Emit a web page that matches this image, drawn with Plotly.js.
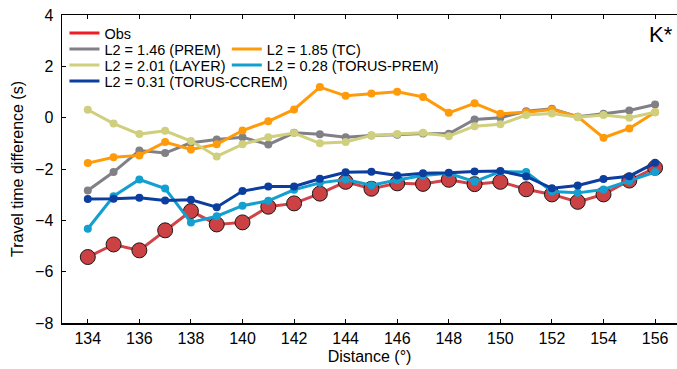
<!DOCTYPE html>
<html>
<head>
<meta charset="utf-8">
<script src="https://cdn.plot.ly/plotly-3.0.1.min.js"></script>
<style>html,body{margin:0;padding:0;background:#fff;}#chart{width:677px;height:369px;}</style>
</head>
<body>
<div id="chart"></div>
<script>
const distance = [134,135,136,137,138,139,140,141,142,143,144,145,146,147,148,149,150,151,152,153,154,155,156];
const obs = [-5.43,-4.94,-5.17,-4.39,-3.64,-4.16,-4.08,-3.47,-3.34,-2.96,-2.50,-2.77,-2.56,-2.58,-2.42,-2.59,-2.50,-2.79,-2.99,-3.28,-2.99,-2.45,-1.95];
const prem = [-2.84,-2.12,-1.28,-1.38,-0.98,-0.85,-0.76,-1.05,-0.59,-0.65,-0.76,-0.69,-0.67,-0.62,-0.63,-0.07,0.00,0.25,0.35,0.04,0.15,0.28,0.51];
const tc = [-1.77,-1.54,-1.47,-0.95,-1.24,-1.04,-0.50,-0.14,0.32,1.19,0.85,0.94,1.01,0.81,0.19,0.56,0.15,0.21,0.32,0.04,-0.78,-0.42,0.21];
const layer = [0.31,-0.23,-0.64,-0.51,-0.91,-1.51,-1.04,-0.76,-0.60,-1.00,-0.95,-0.69,-0.64,-0.59,-0.72,-0.33,-0.26,0.10,0.16,0.02,0.10,0.00,0.21];
const torusPrem = [-4.33,-3.06,-2.41,-2.76,-4.08,-3.84,-3.43,-3.24,-2.81,-2.54,-2.41,-2.63,-2.43,-2.25,-2.17,-2.49,-2.10,-2.12,-2.88,-2.93,-2.80,-2.47,-2.12];
const torusCcrem = [-3.17,-3.16,-3.12,-3.23,-3.20,-3.49,-2.86,-2.68,-2.68,-2.38,-2.13,-2.11,-2.25,-2.17,-2.15,-2.10,-2.08,-2.29,-2.75,-2.64,-2.39,-2.28,-1.76];
const names = ['Obs','L2 = 1.46 (PREM)','L2 = 1.85 (TC)','L2 = 2.01 (LAYER)','L2 = 0.28 (TORUS-PREM)','L2 = 0.31 (TORUS-CCREM)'];
const yTicks = [-8,-6,-4,-2,0,2,4];
const xTicks = [134,136,138,140,142,144,146,148,150,152,154,156];

const colors = ['#d04347','#808086','#ff9a0a','#cfcf7e','#139fd0','#0b3e9e'];
const legendColors = ['#ee1c24','#808086','#ff9a0a','#cfcf7e','#139fd0','#0b3e9e'];
const series = [obs, prem, tc, layer, torusPrem, torusCcrem];
// legend placement: [column, row]
const legendPos = [[0,0],[0,1],[1,1],[0,2],[1,2],[0,3]];

const traces = [];
series.forEach((ys, i) => {
  traces.push({
    x: distance, y: ys, type: 'scatter', mode: 'lines+markers', showlegend: false,
    line: {color: colors[i], width: 3},
    marker: i === 0 ? {size: 15, color: '#cc4143', line: {color: '#1a1a1a', width: 1}}
                    : {size: 8, color: colors[i]}
  });
});
series.forEach((ys, i) => {
  traces.push({
    x: [null], y: [null], type: 'scatter', mode: 'lines', name: names[i],
    legend: i === 0 ? 'legend' : 'legend' + (i + 1), line: {color: legendColors[i], width: 3}
  });
});

const fam = 'Liberation Sans, Arial, sans-serif';
const layout = {
  width: 677, height: 369,
  margin: {l: 62, r: 0, t: 15, b: 46},
  paper_bgcolor: '#fff', plot_bgcolor: '#fff',
  font: {size: 15, family: fam, color: '#000'},
  xaxis: {
    range: [133, 156.85], tickvals: xTicks, ticktext: xTicks.map(String),
    ticks: 'inside', ticklen: 4, tickwidth: 1, tickcolor: '#000',
    showline: true, linecolor: '#000', linewidth: 1.5, mirror: 'ticks',
    showgrid: false, zeroline: false,
    tickfont: {size: 16},
    title: {text: 'Distance (°)', font: {size: 16}, standoff: 5}
  },
  yaxis: {
    range: [-8, 4], tickvals: yTicks, ticktext: yTicks.map(v => v < 0 ? '\u2212' + Math.abs(v) : String(v)),
    ticks: 'inside', ticklen: 4, tickwidth: 1, tickcolor: '#000',
    showline: true, linecolor: '#000', linewidth: 1.5, mirror: false,
    showgrid: false, zeroline: false,
    tickfont: {size: 16}, ticklabelstandoff: 4,
    title: {text: 'Travel time difference (s)', font: {size: 16}, standoff: 7}
  },
  annotations: [{
    text: 'K*', xref: 'paper', yref: 'paper', x: 0.997, y: 0.985,
    xanchor: 'right', yanchor: 'top', showarrow: false,
    font: {size: 22, family: fam, color: '#000'}
  }]
};
const colX = [0.004, 0.268];
const rowY = [0.9416, 0.8896, 0.8377, 0.7857];
legendPos.forEach((p, i) => {
  const key = i === 0 ? 'legend' : 'legend' + (i + 1);
  layout[key] = {
    x: colX[p[0]], y: rowY[p[1]], xanchor: 'left', yanchor: 'middle',
    bgcolor: 'rgba(0,0,0,0)', borderwidth: 0,
    font: {size: 14.5, family: fam, color: '#000'}, itemwidth: 30
  };
});
Plotly.newPlot('chart', traces, layout, {displayModeBar: false, staticPlot: true});
</script>
</body>
</html>
